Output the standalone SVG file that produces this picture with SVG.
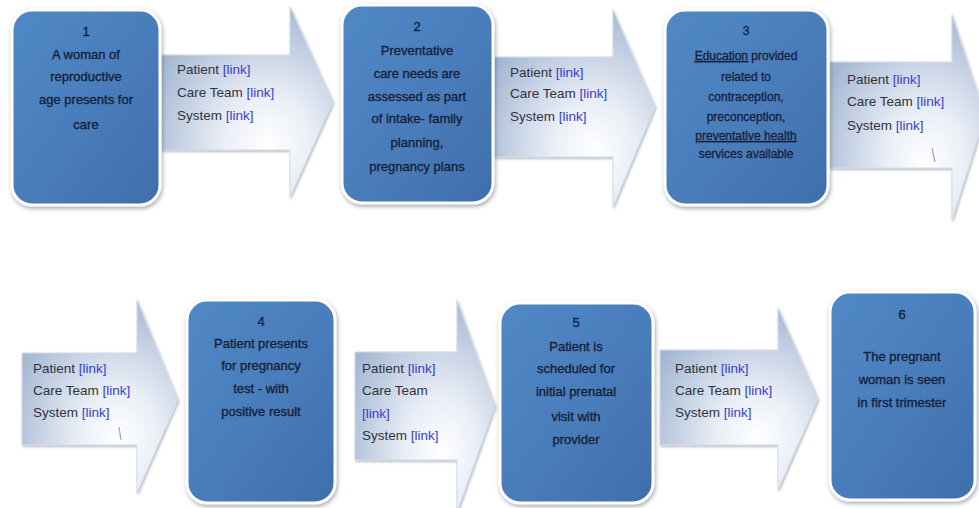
<svg xmlns="http://www.w3.org/2000/svg" width="979" height="508" viewBox="0 0 979 508">
<defs>
<linearGradient id="boxg" x1="0" y1="0" x2="1" y2="1">
<stop offset="0" stop-color="#5089c6"/>
<stop offset="0.5" stop-color="#4a7dbb"/>
<stop offset="1" stop-color="#3f6fab"/>
</linearGradient>
<radialGradient id="arrg" cx="0.62" cy="0.72" r="0.75">
<stop offset="0" stop-color="#ffffff"/>
<stop offset="0.35" stop-color="#e9eef6"/>
<stop offset="1" stop-color="#a3b6d2"/>
</radialGradient>
<filter id="sh" x="-20%" y="-20%" width="140%" height="140%">
<feDropShadow dx="1" dy="2" stdDeviation="2" flood-color="#556070" flood-opacity="0.55"/>
</filter>
<filter id="sha" x="-20%" y="-20%" width="140%" height="140%">
<feDropShadow dx="1" dy="1.5" stdDeviation="1.2" flood-color="#6d7a8c" flood-opacity="0.5"/>
</filter>
</defs>
<style>
.box{fill:url(#boxg);stroke:#ffffff;stroke-width:3;filter:url(#sh)}
.arr{fill:url(#arrg);stroke:#d4dce8;stroke-width:1;filter:url(#sha)}
.bt{font-family:"Liberation Sans",Arial,sans-serif;font-size:13px;fill:#16223a;stroke:#16223a;stroke-width:0.35;text-anchor:middle}
.bt3{font-family:"Liberation Sans",Arial,sans-serif;font-size:12px;fill:#16223a;stroke:#16223a;stroke-width:0.3;text-anchor:middle}
.at{font-family:"Liberation Sans",Arial,sans-serif;font-size:13.5px;fill:#2e3440}
.lk{fill:#3a3ad0}
.mark{stroke:#9aa6b6;stroke-width:1.2;fill:none}
</style>
<rect width="979" height="508" fill="#ffffff"/>

<g id="connectors">
<g id="arrow1">
<polygon class="arr" points="161,55 290,55 290,7 333,102 290,197 290,150 161,150"/>
<text class="at" x="177" y="74">Patient <tspan class="lk">[link]</tspan></text>
<text class="at" x="177" y="97">Care Team <tspan class="lk">[link]</tspan></text>
<text class="at" x="177" y="120">System <tspan class="lk">[link]</tspan></text>
</g>
<g id="arrow2">
<polygon class="arr" points="494,57 613,57 613,10 655,107 613,207 613,157 494,157"/>
<text class="at" x="510" y="77">Patient <tspan class="lk">[link]</tspan></text>
<text class="at" x="510" y="98">Care Team <tspan class="lk">[link]</tspan></text>
<text class="at" x="510" y="121">System <tspan class="lk">[link]</tspan></text>
</g>
<g id="arrow3">
<polygon class="arr" points="830,62 952,62 952,15 985,116 952,220 952,168 830,168"/>
<text class="at" x="847" y="84">Patient <tspan class="lk">[link]</tspan></text>
<text class="at" x="847" y="106">Care Team <tspan class="lk">[link]</tspan></text>
<text class="at" x="847" y="130">System <tspan class="lk">[link]</tspan></text>
<path class="mark" d="M932,148 L935,162"/>
</g>
<g id="arrow4">
<polygon class="arr" points="22,353 137,353 137,300 178,400 137,493 137,445 22,445"/>
<text class="at" x="33" y="373">Patient <tspan class="lk">[link]</tspan></text>
<text class="at" x="33" y="395">Care Team <tspan class="lk">[link]</tspan></text>
<text class="at" x="33" y="417">System <tspan class="lk">[link]</tspan></text>
<path class="mark" d="M119,427 L121,440"/>
</g>
<g id="arrow5">
<polygon class="arr" points="355,352 457,352 457,300 495,406 457,512 457,460 355,460"/>
<text class="at" x="362" y="373">Patient <tspan class="lk">[link]</tspan></text>
<text class="at" x="362" y="395">Care Team</text>
<text class="at" x="362" y="418"><tspan class="lk">[link]</tspan></text>
<text class="at" x="362" y="440">System <tspan class="lk">[link]</tspan></text>
</g>
<g id="arrow6">
<polygon class="arr" points="660,350 778,350 778,308 818,399 778,490 778,445 660,445"/>
<text class="at" x="675" y="373">Patient <tspan class="lk">[link]</tspan></text>
<text class="at" x="675" y="395">Care Team <tspan class="lk">[link]</tspan></text>
<text class="at" x="675" y="417">System <tspan class="lk">[link]</tspan></text>
</g>
</g>

<g id="node1">
<rect class="box" x="12" y="10" width="148" height="195" rx="20"/>
<text class="bt" x="86" y="36">1</text>
<text class="bt" x="86" y="59">A woman of</text>
<text class="bt" x="86" y="81">reproductive</text>
<text class="bt" x="86" y="104">age presents for</text>
<text class="bt" x="86" y="129">care</text>
</g>

<g id="node2">
<rect class="box" x="342" y="5" width="151" height="198" rx="20"/>
<text class="bt" x="417" y="31">2</text>
<text class="bt" x="417" y="55">Preventative</text>
<text class="bt" x="417" y="78">care needs are</text>
<text class="bt" x="417" y="101">assessed as part</text>
<text class="bt" x="417" y="123">of intake- family</text>
<text class="bt" x="417" y="147">planning,</text>
<text class="bt" x="417" y="171">pregnancy plans</text>
</g>

<g id="node3">
<rect class="box" x="665" y="10" width="163" height="195" rx="20"/>
<text class="bt3" x="746" y="35">3</text>
<text class="bt3" x="746" y="60"><tspan text-decoration="underline">Education</tspan> provided</text>
<text class="bt3" x="746" y="81">related to</text>
<text class="bt3" x="746" y="101">contraception,</text>
<text class="bt3" x="746" y="121">preconception,</text>
<text class="bt3" x="746" y="140"><tspan text-decoration="underline">preventative health</tspan></text>
<text class="bt3" x="746" y="158">services available</text>
</g>

<g id="node4">
<rect class="box" x="187" y="300" width="148" height="203" rx="20"/>
<text class="bt" x="261" y="326">4</text>
<text class="bt" x="261" y="348">Patient presents</text>
<text class="bt" x="261" y="370">for pregnancy</text>
<text class="bt" x="261" y="393">test -  with</text>
<text class="bt" x="261" y="416">positive result</text>
</g>

<g id="node5">
<rect class="box" x="500" y="303" width="153" height="200" rx="20"/>
<text class="bt" x="576" y="327">5</text>
<text class="bt" x="576" y="351">Patient is</text>
<text class="bt" x="576" y="373">scheduled for</text>
<text class="bt" x="576" y="396">initial prenatal</text>
<text class="bt" x="576" y="421">visit with</text>
<text class="bt" x="576" y="444">provider</text>
</g>

<g id="node6">
<rect class="box" x="830" y="292" width="145" height="208" rx="20"/>
<text class="bt" x="902" y="319">6</text>
<text class="bt" x="902" y="361">The pregnant</text>
<text class="bt" x="902" y="384">woman is seen</text>
<text class="bt" x="902" y="407">in first trimester</text>
</g>
</svg>
